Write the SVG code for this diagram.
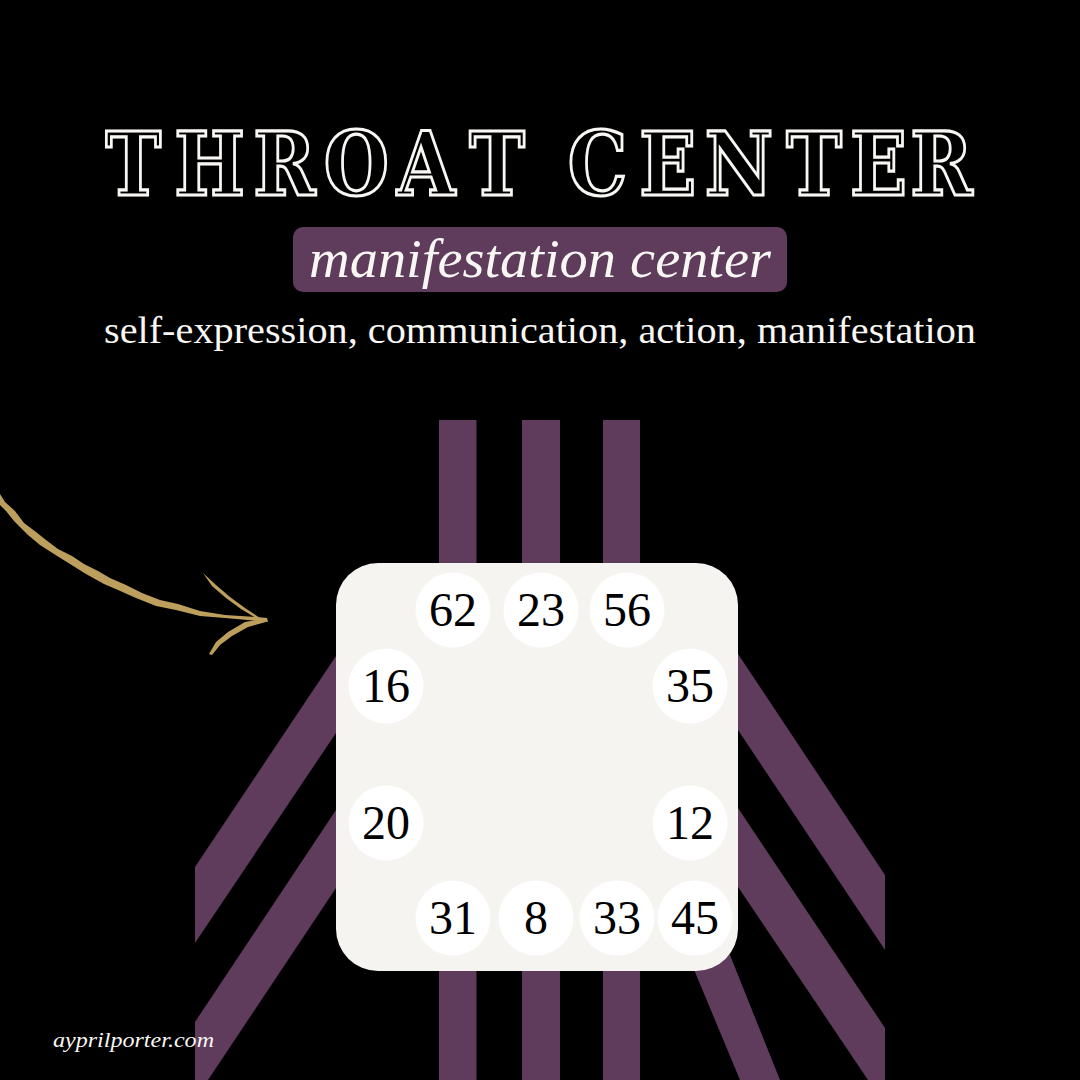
<svg xmlns="http://www.w3.org/2000/svg" width="1080" height="1080" viewBox="0 0 1080 1080">
<style>
.s{fill:#5f3b5c}
.c{fill:#fff}
.n{font-family:"Liberation Serif",serif;font-size:48px;fill:#000;text-anchor:middle}
.a{fill:#bd9f5d}
.t{font-family:"DejaVu Serif",serif;font-weight:700;font-size:88px;fill:none;stroke:#f8f7f3;stroke-width:3.2px}
</style>
<rect width="1080" height="1080" fill="#000"/>
<g id="channels">
<rect class="s" x="439" y="420" width="37.500" height="660"/>
<rect class="s" x="522" y="420" width="38" height="660"/>
<rect class="s" x="603" y="420" width="37" height="660"/>
<polygon class="s" points="195,867 340,650 340,727 195,943"/>
<polygon class="s" points="195,1022 340,804 340,882 208,1080 195,1080"/>
<polygon class="s" points="734,648 885,875 885,950 734,724"/>
<polygon class="s" points="734,802 885,1028 885,1080 868,1080 734,881"/>
<polygon class="s" points="690,960 728,950 780,1080 740,1080"/>
</g>
<g id="center">
<rect x="336" y="563" width="402" height="408" rx="42" fill="#f5f4f0"/>
</g>
<g id="gate-62"><circle class="c" cx="453" cy="610" r="37.500"/><text class="n" x="453" y="626">62</text></g>
<g id="gate-23"><circle class="c" cx="541" cy="610" r="37.500"/><text class="n" x="541" y="626">23</text></g>
<g id="gate-56"><circle class="c" cx="627" cy="610" r="37.500"/><text class="n" x="627" y="626">56</text></g>
<g id="gate-16"><circle class="c" cx="386" cy="686" r="37.500"/><text class="n" x="386" y="702">16</text></g>
<g id="gate-35"><circle class="c" cx="690" cy="686" r="37.500"/><text class="n" x="690" y="702">35</text></g>
<g id="gate-20"><circle class="c" cx="386" cy="823" r="37.500"/><text class="n" x="386" y="839">20</text></g>
<g id="gate-12"><circle class="c" cx="690" cy="823" r="37.500"/><text class="n" x="690" y="839">12</text></g>
<g id="gate-31"><circle class="c" cx="453" cy="918" r="37.500"/><text class="n" x="453" y="934">31</text></g>
<g id="gate-8"><circle class="c" cx="536" cy="918" r="37.500"/><text class="n" x="536" y="934">8</text></g>
<g id="gate-33"><circle class="c" cx="617" cy="918" r="37.500"/><text class="n" x="617" y="934">33</text></g>
<g id="gate-45"><circle class="c" cx="695" cy="918" r="37.500"/><text class="n" x="695" y="934">45</text></g>
<g id="arrow">
<polygon class="a" points="0,494 5,502 15,511 24,523 36,532 46,540 58,549 72,556 84,564 98,571 110,578 126,585 142,593 160,600 178,604 200,611 225,615 257,617 267,618 268,622 258,621 225,618 200,616 176,610 156,606 136,598 118,590 104,584 86,574 70,564 54,554 40,545 28,535 14,521 6,511 0,505"/>
<polygon class="a" points="203,573 216,585 230,597 245,608 260,618 257,618.500 241,609 226,598 212,586"/>
<polygon class="a" points="209,654 216,642 228,632 245,622 262,619 266,622 248,627 232,636 220,645 212,655"/>
</g>
<g id="title">
<g transform="scale(.85 1)"><text class="t" y="195" x="124 205 298 381 467 552 600 668 752 829 925 1000 1071">THROAT CENTER</text></g>
<rect x="293" y="227" width="494" height="65" rx="10" fill="#5f3b5c"/>
<text x="540" y="277" text-anchor="middle" font-family="Liberation Serif, serif" font-style="italic" font-size="54" fill="#f8f7f3" textLength="462" lengthAdjust="spacingAndGlyphs">manifestation center</text>
<text x="540" y="343" text-anchor="middle" font-family="Liberation Serif, serif" font-size="37" fill="#f8f7f3" textLength="872" lengthAdjust="spacingAndGlyphs">self-expression, communication, action, manifestation</text>
<text x="53" y="1047" font-family="Liberation Serif, serif" font-style="italic" font-size="22" fill="#f8f7f3" textLength="161" lengthAdjust="spacingAndGlyphs">ayprilporter.com</text>
</g>
</svg>
